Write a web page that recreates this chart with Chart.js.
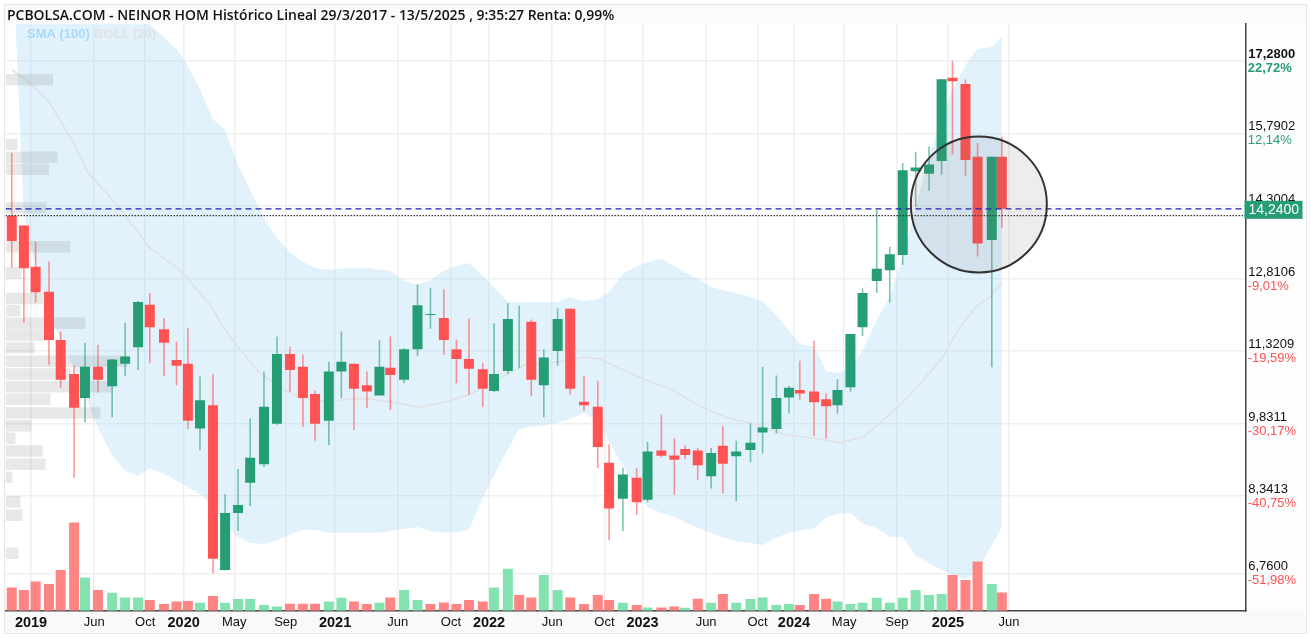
<!DOCTYPE html>
<html>
<head>
<meta charset="utf-8">
<style>
  html, body { margin: 0; padding: 0; background: #fff; }
  #frame { position: absolute; left: 4px; top: 4px; width: 1301px; height: 628px; background: #fdfdfd; border: 1px solid #e6e6e6; }
  #titlebar { position: absolute; left: 5px; top: 5px; width: 1301px; height: 19px; background: #fbfbfb; }
  #title { position: absolute; left: 7px; top: 5px; font: 600 13.95px "Open Sans", sans-serif; line-height: 19px; color: #111; white-space: nowrap; }
  canvas { position: absolute; left: 0; top: 0; }
</style>
<script src="https://cdn.jsdelivr.net/npm/chart.js@4"></script>
</head>
<body>
<div id="frame"></div>
<div id="titlebar"></div>
<canvas id="chart" width="1311" height="638"></canvas>
<div id="title">PCBOLSA.COM - NEINOR HOM Histórico Lineal 29/3/2017 - 13/5/2025 , 9:35:27 Renta: 0,99%</div>
<script>
// x values are days counted from 1 Jan 2019
var candleDays = [-46,-17,11,43,71,103,129,160,194,225,256,284,318,348,375,404,435,464,495,524,557,588,619,650,679,712,742,772,803,833,859,892,924,955,987,1017,1047,1080,1107,1140,1167,1196,1226,1259,1289,1322,1355,1382,1415,1448,1474,1507,1538,1564,1594,1626,1654,1686,1720,1749,1782,1812,1838,1872,1901,1928,1959,1988,2022,2053,2084,2115,2147,2177,2203,2234,2263,2297,2321];
var opens = [14.10,13.90,13.05,12.54,11.55,10.85,10.36,11.00,10.60,11.06,11.40,12.27,11.77,11.14,11.06,9.73,10.21,6.83,8.00,8.62,9.00,9.83,11.26,11.00,10.44,9.89,10.90,11.06,10.62,10.41,10.98,10.73,11.36,12.06,12.00,11.36,11.16,10.95,10.50,10.91,11.70,11.92,10.62,11.32,12.19,10.28,10.18,9.03,8.29,8.72,8.27,9.28,9.18,9.31,9.28,8.75,9.38,9.16,9.29,9.65,9.72,10.37,10.52,10.49,10.33,10.21,10.58,11.81,12.76,12.98,13.29,15.01,14.96,15.22,16.93,16.80,15.31,13.60,15.31];
var closes = [13.58,13.02,12.53,11.55,10.73,10.16,11.00,10.73,11.15,11.21,12.33,11.81,11.49,11.02,9.89,10.31,7.06,8.00,8.16,9.13,10.18,11.26,10.93,10.36,9.83,10.90,11.10,10.55,10.49,11.00,10.83,11.36,12.26,12.08,11.55,11.16,10.96,10.55,10.85,11.98,11.70,10.73,11.19,11.98,10.55,10.21,9.35,8.09,8.79,8.22,9.26,9.17,9.09,9.19,8.98,9.23,9.01,9.26,9.44,9.75,10.36,10.57,10.45,10.27,10.19,10.52,11.67,12.51,13.01,13.31,15.03,15.09,15.15,16.90,16.86,15.24,13.53,15.31,14.24];
var highs = [15.39,13.91,13.57,13.16,11.72,11.02,11.49,11.45,11.16,11.90,12.35,12.51,12.00,11.51,11.80,10.80,10.85,8.38,8.90,9.94,10.90,11.62,11.41,11.25,10.51,11.10,11.72,11.06,10.90,11.55,11.62,11.38,12.69,12.62,12.59,11.56,11.99,11.07,11.89,12.30,12.25,11.97,11.36,12.20,12.19,10.82,10.71,9.41,8.92,8.92,9.46,10.02,9.53,9.39,9.33,9.33,9.79,9.48,9.84,11.00,10.82,10.61,11.12,11.53,10.45,10.74,11.67,12.61,14.22,13.46,15.18,15.41,15.52,16.90,17.28,16.90,15.59,15.31,15.72];
var lows = [13.03,11.90,12.31,11.04,10.57,8.72,9.86,10.47,9.96,10.81,10.93,11.07,10.81,10.62,9.72,9.29,6.76,6.82,7.63,8.14,8.94,9.81,10.48,9.76,9.48,9.39,10.35,9.70,10.15,10.41,10.11,10.66,11.22,11.78,11.24,10.66,10.42,10.17,10.48,10.85,10.97,10.40,9.96,11.02,10.43,10.09,8.92,7.44,7.63,7.96,8.22,9.14,8.37,9.10,8.68,8.50,8.40,8.24,9.04,9.22,9.63,10.04,10.32,9.58,9.52,10.04,10.49,11.63,12.51,12.32,13.09,14.28,14.61,14.94,15.36,14.91,13.26,10.99,13.85];
var volumes = [23.3,20.7,29.3,26.7,40.7,88.3,33.3,20.7,18,13.3,13.3,10.7,6.7,9.3,9.7,8,14.7,8,11.7,11.7,5.7,4.3,7,7,7,9.3,13,9.3,6.7,8,13.3,20.7,10.7,6.7,8.3,6.7,10.7,9.3,23.3,42,15.7,13.3,35.7,20.7,13.3,6.7,15.7,10.7,8,5.7,3.3,3.3,4.3,3,12,8,16.7,8,11.7,13.3,5.7,6.7,5.7,16.7,12,9.3,6.7,8,13,8,13,20.7,15.7,16.7,35.7,30.7,49.3,26.7,18.3];
// volume bars whose colour differs from their candle
var volumeFlips = [33, 40, 53];

var bandDays = [-37].concat(candleDays.slice(1));
var bandUpper = [19,19,19,19,19,19,19,19,19,19,18.24,18.03,17.75,17.52,17.17,16.70,16.08,15.86,15.14,14.63,14.05,13.64,13.35,13.15,13.03,12.99,13.01,13.03,13.03,12.99,12.97,12.76,12.68,12.78,12.97,13.07,13.13,12.86,12.62,12.33,12.31,12.33,12.33,12.33,12.43,12.35,12.39,12.53,12.92,13.05,13.15,13.21,13.07,12.94,12.80,12.64,12.57,12.51,12.43,12.35,12.06,11.75,11.47,11.41,10.91,10.87,10.97,11.34,11.96,12.43,13.25,14.28,15.33,16.10,16.68,17.19,17.52,17.56,17.77];
var bandLower = [18.03,14.11,13.03,12.12,11.51,10.97,10.42,9.74,9.17,8.86,8.76,8.92,8.80,8.66,8.53,8.39,8.16,7.75,7.50,7.38,7.36,7.44,7.55,7.65,7.65,7.59,7.59,7.59,7.59,7.59,7.63,7.67,7.71,7.63,7.59,7.61,7.65,8.31,8.77,9.31,9.72,9.76,9.80,9.85,9.93,10.05,9.89,9.46,8.96,8.45,8.12,8.00,7.92,7.81,7.69,7.59,7.49,7.42,7.38,7.34,7.49,7.59,7.63,7.69,7.90,7.98,8.00,7.77,7.69,7.51,7.51,7.12,6.97,6.83,6.73,6.64,6.79,7.34,7.71];
var smaDays = [-45,-2,45,98,136,206,284,356,404,435,452,500,547,602,650,715,763,803,858,925,994,1045,1104,1181,1265,1320,1360,1415,1475,1535,1592,1664,1719,1807,1869,1934,1989,2030,2070,2113,2180,2221,2264,2293,2321];
var smaValues = [17.09,16.82,16.41,15.65,14.98,14.32,13.44,12.99,12.51,12.20,11.91,11.34,10.87,10.54,10.36,10.28,10.34,10.34,10.28,10.17,10.28,10.42,10.69,11.04,11.10,11.20,11.16,10.93,10.71,10.52,10.22,9.95,9.85,9.60,9.54,9.44,9.56,9.85,10.15,10.52,11.20,11.82,12.27,12.43,12.74];

var profilePrices = [16.89,15.56,15.30,15.05,14.26,13.46,12.93,12.40,12.15,11.89,11.65,11.39,11.11,10.85,10.59,10.33,10.05,9.79,9.53,9.27,9.00,8.73,8.23,7.95,7.17];
var profileSizes = [47.5,12,52,43.5,41,65,16,38,15,80,40,29,122,65,106,45,95,26,10,37,40,7,15,17,13];

var priceTicks = [17.28,15.7902,14.3004,12.8106,11.3209,9.8311,8.3413,6.76];
var priceLabels = ['17,2800','15,7902','14,3004','12,8106','11,3209','9,8311','8,3413','6,7600'];
var percentLabels = ['22,72%','12,14%','','-9,01%','-19,59%','-30,17%','-40,75%','-51,98%'];
var timeTicks = [0,151,273,365,486,609,727,877,1004,1095,1246,1371,1462,1614,1737,1824,1944,2070,2192,2338];
var timeLabels = ['2019','Jun','Oct','2020','May','Sep','2021','Jun','Oct','2022','Jun','Oct','2023','Jun','Oct','2024','May','Sep','2025','Jun'];

var lastPrice = 14.24;
var firstOpen = 14.10;
var lastPriceLabel = '14,2400';
var circleCentre = { x: 2266, y: 14.33, r: 68 };

var xMin = -61, xMax = 2904, yMin = 5.9925, yMax = 18.033;

var RED = '#ff5252', GREEN = '#269e75';
var RED_WICK = 'rgba(255,82,82,0.6)', GREEN_WICK = 'rgba(38,158,117,0.6)';
var RED_VOL = '#ff8585', GREEN_VOL = '#83e2b0';

function isUp(i) { return closes[i] >= opens[i]; }

function points(xs, ys) {
	return xs.map(function (x, i) { return { x: x, y: ys[i] }; });
}

function fixedTicks(values) {
	return function (scale) {
		scale.ticks = values.map(function (v) { return { value: v }; });
	};
}

var chartLabels = {
	id: 'chartLabels',
	beforeDraw: function (chart) {
		var a = chart.chartArea, ctx = chart.ctx;
		ctx.fillStyle = '#fff';
		ctx.fillRect(a.left, a.top, a.right - a.left, a.bottom - a.top);
		ctx.fillStyle = '#f9f9f9';
		ctx.fillRect(5, a.bottom, 1300, 632 - a.bottom);
	},
	afterDraw: function (chart) {
		var ctx = chart.ctx, yScale = chart.scales.y;
		var y = yScale.getPixelForValue(lastPrice);
		ctx.save();
		ctx.textBaseline = 'middle';
		// percent change printed under each price
		percentLabels.forEach(function (text, i) {
			ctx.font = (i === 0 ? 'bold ' : '') + '13px "Liberation Sans"';
			ctx.fillStyle = i < 3 ? GREEN : RED;
			ctx.fillText(text, 1247.7, yScale.getPixelForValue(priceTicks[i]) + 7.5);
		});
		ctx.fillStyle = GREEN;
		ctx.fillRect(1244.5, y - 8, 58, 18);
		ctx.fillStyle = '#fff';
		ctx.font = '14px "Liberation Sans"';
		ctx.fillText(lastPriceLabel, 1248.5, y + 1.5);
		ctx.font = 'bold 13px "Liberation Sans"';
		ctx.fillStyle = '#a9d8fb';
		ctx.fillText('SMA (100)', 27, 34);
		ctx.fillStyle = '#e2e2e2';
		ctx.fillText('BOLL (20)', 94, 34);
		ctx.restore();
	}
};

new Chart(document.getElementById('chart'), {
	type: 'bar',
	plugins: [chartLabels],
	data: {
		datasets: [
			{
				type: 'line', label: 'upper', order: 10, data: points(bandDays, bandUpper),
				borderWidth: 0, pointRadius: 0, fill: '+1', backgroundColor: 'rgba(169,218,249,0.35)'
			},
			{
				type: 'line', label: 'lower', order: 10, data: points(bandDays, bandLower),
				borderWidth: 0, pointRadius: 0, fill: false
			},
			{
				type: 'line', label: 'sma', order: 9, data: points(smaDays, smaValues),
				borderColor: '#e0e0e0', borderWidth: 1.5, pointRadius: 0, fill: false
			},
			{
				label: 'profile', order: 8, indexAxis: 'y', xAxisID: 'xProfile', yAxisID: 'yProfile',
				data: profilePrices.map(function (p, i) { return { x: profileSizes[i], y: p }; }),
				grouped: false, barPercentage: 3, maxBarThickness: 11.5,
				backgroundColor: 'rgba(120,120,120,0.17)'
			},
			{
				label: 'volume', order: 7, yAxisID: 'yVol', data: points(candleDays, volumes),
				grouped: false, barPercentage: 3, maxBarThickness: 10,
				backgroundColor: candleDays.map(function (d, i) {
					var up = isUp(i);
					if (volumeFlips.indexOf(i) >= 0) up = !up;
					return up ? GREEN_VOL : RED_VOL;
				})
			},
			{
				label: 'wick', order: 6,
				data: candleDays.map(function (d, i) { return { x: d, y: [lows[i], highs[i]] }; }),
				grouped: false, barPercentage: 3, maxBarThickness: 1.6,
				backgroundColor: candleDays.map(function (d, i) { return isUp(i) ? GREEN_WICK : RED_WICK; })
			},
			{
				label: 'body', order: 5,
				data: candleDays.map(function (d, i) { return { x: d, y: [opens[i], closes[i]] }; }),
				grouped: false, barPercentage: 3, maxBarThickness: 10,
				backgroundColor: candleDays.map(function (d, i) { return isUp(i) ? GREEN : RED; })
			},
			{
				type: 'line', label: 'last', order: 2, data: points([xMin, xMax], [lastPrice, lastPrice]),
				borderColor: '#1c1cb8', borderWidth: 1.2, borderDash: [6, 4], pointRadius: 0, fill: false
			},
			{
				type: 'line', label: 'open', order: 2, data: points([xMin, xMax], [firstOpen, firstOpen]),
				borderColor: '#333', borderWidth: 1.4, borderDash: [1.5, 1.5], pointRadius: 0, fill: false
			},
			{
				type: 'bubble', label: 'circle', order: 1, data: [circleCentre],
				backgroundColor: 'rgba(110,110,110,0.12)', borderColor: '#333', borderWidth: 2
			}
		]
	},
	options: {
		responsive: false,
		animation: false,
		events: [],
		layout: { autoPadding: false, padding: { left: 5.5, top: 24, right: 0, bottom: 0 } },
		plugins: { legend: { display: false }, title: { display: false }, tooltip: { enabled: false } },
		scales: {
			x: {
				type: 'linear', position: 'bottom', min: xMin, max: xMax, offset: false,
				afterBuildTicks: fixedTicks(timeTicks),
				afterFit: function (scale) { scale.height = 27.3; },
				grid: { color: '#efefef', lineWidth: 1.5, offset: false, drawTicks: false },
				border: { color: '#444', width: 1.5 },
				ticks: {
					autoSkip: false, maxRotation: 0, padding: 4, color: '#111',
					callback: function (v) { return timeLabels[timeTicks.indexOf(v)]; },
					font: function (c) {
						var t = timeLabels[c.index] || '';
						return t.length === 4
							? { family: '"Liberation Sans"', size: 14.5, weight: 'bold' }
							: { family: '"Liberation Sans"', size: 13 };
					}
				}
			},
			y: {
				type: 'linear', position: 'right', min: yMin, max: yMax,
				afterBuildTicks: fixedTicks(priceTicks),
				afterFit: function (scale) { scale.width = 65.3; },
				grid: { color: '#efefef', lineWidth: 1.5, drawTicks: false },
				border: { color: '#444', width: 1.5 },
				ticks: {
					autoSkip: false, padding: 2.5, color: '#111',
					callback: function (v) { return [priceLabels[priceTicks.indexOf(v)], '']; },
					font: function (c) {
						return { family: '"Liberation Sans"', size: 13, lineHeight: 1, weight: c.index === 0 ? 'bold' : 'normal' };
					}
				}
			},
			yVol: { type: 'linear', display: false, min: 0, max: 586.7 },
			yProfile: { type: 'linear', display: false, min: yMin, max: yMax, offset: false, grid: { offset: false } },
			xProfile: { type: 'linear', display: false, min: 0, max: 1240, offset: false, grid: { offset: false } }
		}
	}
});
</script>
</body>
</html>
